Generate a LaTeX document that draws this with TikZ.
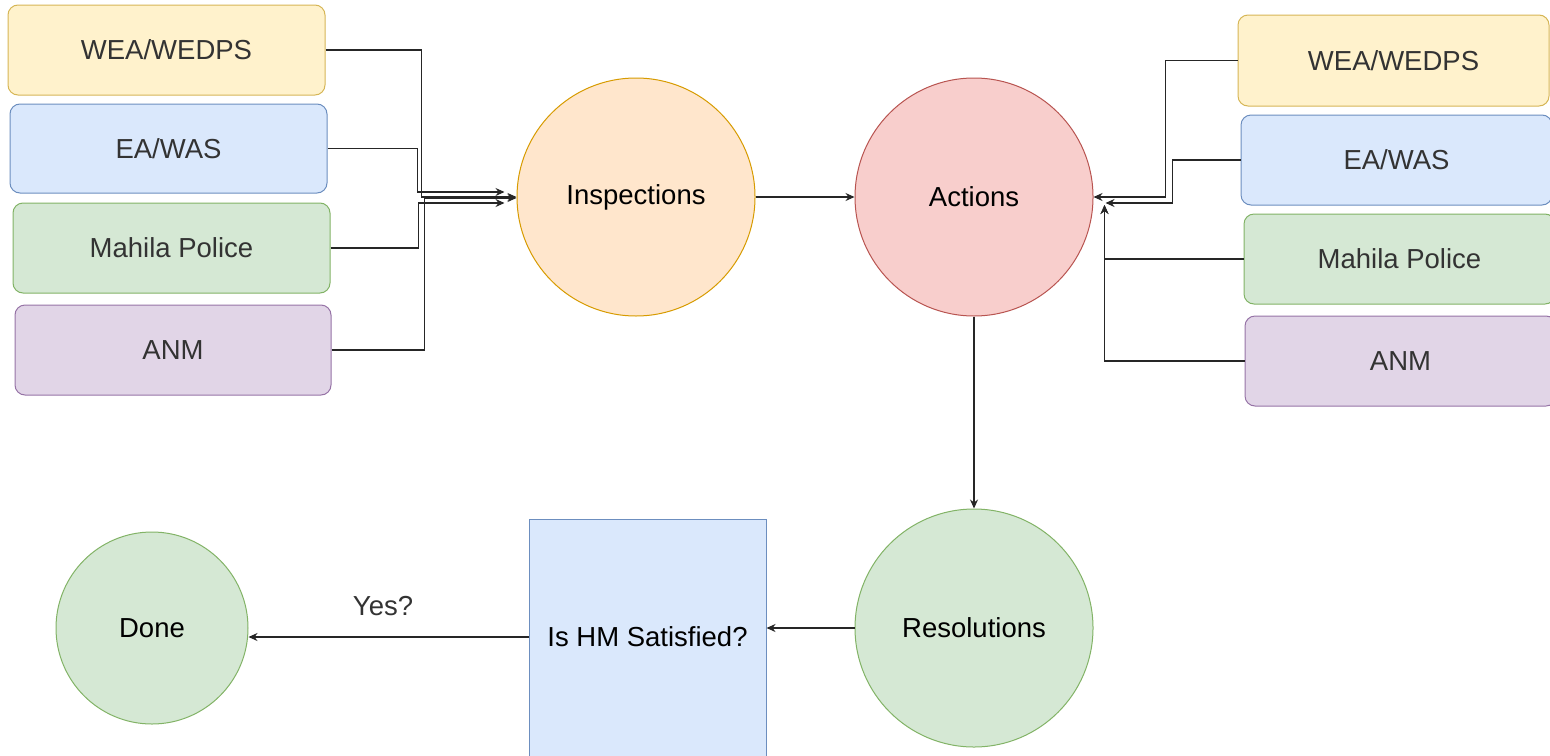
\documentclass[tikz,border=0pt]{standalone}
\usepackage{fontspec}
\setmainfont{Liberation Sans}
\usetikzlibrary{calc,arrows.meta}
\definecolor{yfill}{HTML}{FFF2CC}\definecolor{ydraw}{HTML}{D6B656}
\definecolor{bfill}{HTML}{DAE8FC}\definecolor{bdraw}{HTML}{6C8EBF}
\definecolor{gfill}{HTML}{D5E8D4}\definecolor{gdraw}{HTML}{82B366}
\definecolor{pfill}{HTML}{E1D5E7}\definecolor{pdraw}{HTML}{9673A6}
\definecolor{ofill}{HTML}{FFE6CC}\definecolor{odraw}{HTML}{D79B00}
\definecolor{rfill}{HTML}{F8CECC}\definecolor{rdraw}{HTML}{B85450}
\definecolor{txt}{HTML}{333333}
\tikzset{
  box/.style={draw, rounded corners=5pt, line width=0.5pt, minimum width=158pt, minimum height=45pt, inner sep=0pt, text=txt, font=\fontsize{13.75}{16}\selectfont},
  circ/.style={draw, circle, line width=0.5pt, inner sep=0pt, text=black, font=\fontsize{13.75}{16}\selectfont},
  arr/.style={draw=black!85, line width=0.6pt, -{Stealth[length=4.5pt,width=4pt]}},
}
\begin{document}
\begin{tikzpicture}[x=0.5pt,y=-0.5pt]
\useasboundingbox (0,0) rectangle (1550,755);
% left boxes
\node[box, fill=yfill, draw=ydraw, minimum width=158.5pt, minimum height=45pt] (L1) at (166.5,50) {WEA/WEDPS};
\node[box, fill=bfill, draw=bdraw, minimum width=158.5pt, minimum height=44.5pt] (L2) at (168.5,148.5) {EA/WAS};
\node[box, fill=gfill, draw=gdraw, minimum width=158.5pt, minimum height=45pt] (L3) at (171.5,248) {Mahila Police};
\node[box, fill=pfill, draw=pdraw, minimum width=158pt, minimum height=45pt] (L4) at (173,350) {ANM};
% right boxes
\node[box, fill=yfill, draw=ydraw, minimum width=155.5pt, minimum height=45.5pt] (R1) at (1393.5,60.5) {WEA/WEDPS};
\node[box, fill=bfill, draw=bdraw, minimum width=155.5pt, minimum height=45pt] (R2) at (1396.5,160) {EA/WAS};
\node[box, fill=gfill, draw=gdraw, minimum width=155.5pt, minimum height=45pt] (R3) at (1399.5,259) {Mahila Police};
\node[box, fill=pfill, draw=pdraw, minimum width=155.5pt, minimum height=45pt] (R4) at (1400.5,361) {ANM};
% circles
\node[circ, fill=ofill, draw=odraw, minimum size=119pt] (I) at (636,197) {Inspections};
\node[circ, fill=rfill, draw=rdraw, minimum size=119pt] (A) at (974,197) {Actions};
\node[circ, fill=gfill, draw=gdraw, minimum size=119pt] (Res) at (974,628) {Resolutions};
\node[circ, fill=gfill, draw=gdraw, minimum size=96pt] (Done) at (152,628) {Done};
% decision box
\node[draw=bdraw, fill=bfill, line width=0.5pt, minimum width=118.5pt, minimum height=121pt, inner sep=0pt, font=\fontsize{13.75}{16}\selectfont] (HM) at (647.5,640) {};
\node[font=\fontsize{13.75}{16}\selectfont] (HMt) at (647.5,637) {Is HM Satisfied?};
\node[text=txt, font=\fontsize{13.75}{16}\selectfont] (yes) at (383,606) {Yes?};
% left connectors
\draw[arr] (L1.east) -- ++(96,0) |- (I.west);
\draw[arr] (L2.east) -- ++(90,0) |- ($(I.west)+(-12,-5)$);
\draw[arr] (L3.east) -- ++(88,0) |- ($(I.west)+(-12,6)$);
\draw[arr] (L4.east) -- ++(93,0) |- ($(I.west)+(0,1)$);
% right connectors
\draw[arr] (R1.west) -- ++(-72,0) |- (A.east);
\draw[arr] (R2.west) -- ++(-68,0) |- ($(A.east)+(12,6)$);
\draw[arr] (R3.west) -| ($(A.east)+(11,8)$);
\draw[arr] (R4.west) -| ($(A.east)+(11,8)$);
% main flow
\draw[arr] (I.east) -- (A.west);
\draw[arr] (A.south) -- (Res.north);
\draw[arr] (Res.west) -- (HM.east |- Res.west);
\draw[arr] ($(HM.west)+(0,-3)$) -- ($(Done.east)+(0,9)$);
\end{tikzpicture}
\end{document}
